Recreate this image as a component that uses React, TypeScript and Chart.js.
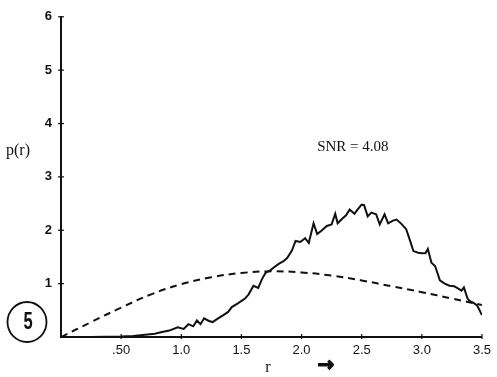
import React, { useEffect, useRef } from "react";
import { Chart, registerables } from "chart.js";

Chart.register(...registerables);

// Measured distribution p(r): radius values and densities
const measuredR = [
  0, 0.25, 0.5, 0.6, 0.7, 0.78, 0.83, 0.9, 0.97, 1.02, 1.06, 1.1, 1.13, 1.16, 1.19, 1.23, 1.26, 1.3,
  1.35, 1.39, 1.42, 1.47, 1.53, 1.56, 1.6, 1.64, 1.67, 1.7, 1.74, 1.78, 1.81, 1.85, 1.88, 1.92, 1.95,
  1.99, 2.03, 2.06, 2.1, 2.13, 2.17, 2.21, 2.25, 2.28, 2.3, 2.34, 2.37, 2.4, 2.44, 2.47, 2.5, 2.52,
  2.55, 2.58, 2.62, 2.65, 2.69, 2.72, 2.76, 2.79, 2.83, 2.87, 2.9, 2.93, 2.97, 3.0, 3.03, 3.05, 3.08,
  3.11, 3.13, 3.15, 3.19, 3.23, 3.27, 3.3, 3.33, 3.35, 3.38, 3.4, 3.43, 3.46, 3.5,
];
const measuredP = [
  0, 0, 0.01, 0.02, 0.04, 0.06, 0.09, 0.12, 0.18, 0.15, 0.24, 0.2, 0.31, 0.24, 0.35, 0.3, 0.28, 0.34,
  0.41, 0.47, 0.56, 0.63, 0.72, 0.8, 0.96, 0.92, 1.08, 1.2, 1.25, 1.32, 1.37, 1.42, 1.48, 1.62, 1.8,
  1.78, 1.85, 1.76, 2.13, 1.93, 2.0, 2.08, 2.11, 2.31, 2.13, 2.22, 2.28, 2.39, 2.31, 2.4, 2.48, 2.47,
  2.26, 2.33, 2.3, 2.11, 2.3, 2.13, 2.18, 2.2, 2.12, 2.02, 1.82, 1.61, 1.58, 1.57, 1.57, 1.65, 1.39,
  1.33, 1.2, 1.06, 1.0, 0.96, 0.95, 0.91, 0.87, 0.93, 0.72, 0.67, 0.64, 0.59, 0.41,
];

// Reference density (dashed curve)
const referenceR = [0, 0.25, 0.5, 0.75, 1.0, 1.25, 1.5, 1.75, 2.0, 2.25, 2.5, 2.75, 3.0, 3.25, 3.5];
const referenceP = [0, 0.28, 0.55, 0.8, 0.99, 1.12, 1.2, 1.23, 1.21, 1.15, 1.06, 0.95, 0.84, 0.72, 0.6];

// Axis ticks
const xTickValues = [0.5, 1.0, 1.5, 2.0, 2.5, 3.0, 3.5];
const xTickLabels = [".50", "1.0", "1.5", "2.0", "2.5", "3.0", "3.5"];
const yTickValues = [1, 2, 3, 4, 5, 6];

const annotationText = "SNR = 4.08";
const panelNumber = "5";

const INK = "#111111";

// Small crossing tick marks on both axes plus free-standing labels
const decorations = {
  id: "decorations",
  afterDraw(chart: any) {
    const { ctx, scales } = chart;
    const xs = scales.x;
    const ys = scales.y;
    const x0 = xs.getPixelForValue(0);
    const y0 = ys.getPixelForValue(0);
    ctx.save();
    ctx.strokeStyle = INK;
    ctx.lineWidth = 1.2;
    yTickValues.forEach((v) => {
      const py = ys.getPixelForValue(v);
      ctx.beginPath();
      ctx.moveTo(x0 - 3, py);
      ctx.lineTo(x0 + 3, py);
      ctx.stroke();
    });
    xTickValues.forEach((v) => {
      const px = xs.getPixelForValue(v);
      ctx.beginPath();
      ctx.moveTo(px, y0 - 3);
      ctx.lineTo(px, y0 + 2);
      ctx.stroke();
    });

    ctx.fillStyle = INK;
    ctx.textBaseline = "middle";
    ctx.textAlign = "left";
    ctx.font = "16px 'Liberation Serif', serif";
    ctx.fillText("p(r)", 6, 151);

    ctx.font = "15px 'Liberation Serif', serif";
    ctx.fillText(annotationText, xs.getPixelForValue(2.13), ys.getPixelForValue(3.55));

    ctx.textAlign = "center";
    ctx.font = "16px 'Liberation Serif', serif";
    ctx.fillText("r", 268, 368);

    // heavy arrow after the axis name
    ctx.font = "bold 20px 'DejaVu Sans', sans-serif";
    ctx.lineWidth = 1.2;
    ctx.strokeText("\u2192", 326, 366);
    ctx.fillText("\u2192", 326, 366);

    // circled panel number
    ctx.lineWidth = 1.8;
    ctx.beginPath();
    ctx.ellipse(27, 322, 19.5, 20, 0, 0, Math.PI * 2);
    ctx.stroke();
    ctx.save();
    ctx.translate(28, 323);
    ctx.scale(0.72, 1);
    ctx.font = "bold 23px 'Liberation Sans', Arial, sans-serif";
    ctx.fillText(panelNumber, 0, 0);
    ctx.restore();
    ctx.restore();
  },
};

export default function App() {
  const canvasRef = useRef<HTMLCanvasElement | null>(null);

  useEffect(() => {
    const canvas = canvasRef.current;
    if (!canvas) return;
    const chart = new Chart(canvas, {
      type: "line",
      data: {
        datasets: [
          {
            label: "reference",
            data: referenceR.map((r, i) => ({ x: r, y: referenceP[i] })),
            borderColor: INK,
            borderWidth: 2,
            borderDash: [7, 5],
            pointRadius: 0,
            tension: 0.4,
            fill: false,
          },
          {
            label: "measured",
            data: measuredR.map((r, i) => ({ x: r, y: measuredP[i] })),
            borderColor: INK,
            borderWidth: 2,
            pointRadius: 0,
            tension: 0,
            fill: false,
          },
        ],
      },
      options: {
        animation: false,
        responsive: false,
        maintainAspectRatio: false,
        layout: { padding: { left: 0, right: 7, top: 13, bottom: 0 } },
        plugins: { legend: { display: false }, tooltip: { enabled: false } },
        scales: {
          x: {
            type: "linear",
            min: 0,
            max: 3.5,
            afterFit: (s: any) => {
              s.height = 40;
            },
            afterBuildTicks: (s: any) => {
              s.ticks = xTickValues.map((v) => ({ value: v }));
            },
            ticks: {
              color: INK,
              padding: 6,
              maxRotation: 0,
              autoSkip: false,
              font: { family: "'Liberation Sans', Arial, sans-serif", size: 13 },
              callback: (v: any) => {
                const i = xTickValues.findIndex((t) => Math.abs(t - Number(v)) < 1e-6);
                return i >= 0 ? xTickLabels[i] : "";
              },
            },
            grid: { display: false, drawTicks: false },
            border: { display: true, color: INK, width: 2 },
          },
          y: {
            type: "linear",
            min: 0,
            max: 6,
            afterFit: (s: any) => {
              s.width = 61;
            },
            afterBuildTicks: (s: any) => {
              s.ticks = yTickValues.map((v) => ({ value: v }));
            },
            ticks: {
              color: INK,
              padding: 9,
              font: { family: "'Liberation Sans', Arial, sans-serif", size: 13, weight: "bold" },
              callback: (v: any) => String(v),
            },
            grid: { display: false, drawTicks: false },
            border: { display: true, color: INK, width: 2 },
          },
        },
      },
      plugins: [decorations],
    });
    return () => chart.destroy();
  }, []);

  return (
    <div style={{ position: "fixed", left: 0, top: 0, width: 497, height: 377, background: "#fff" }}>
      <canvas ref={canvasRef} width={497} height={377} style={{ display: "block" }} />
    </div>
  );
}
